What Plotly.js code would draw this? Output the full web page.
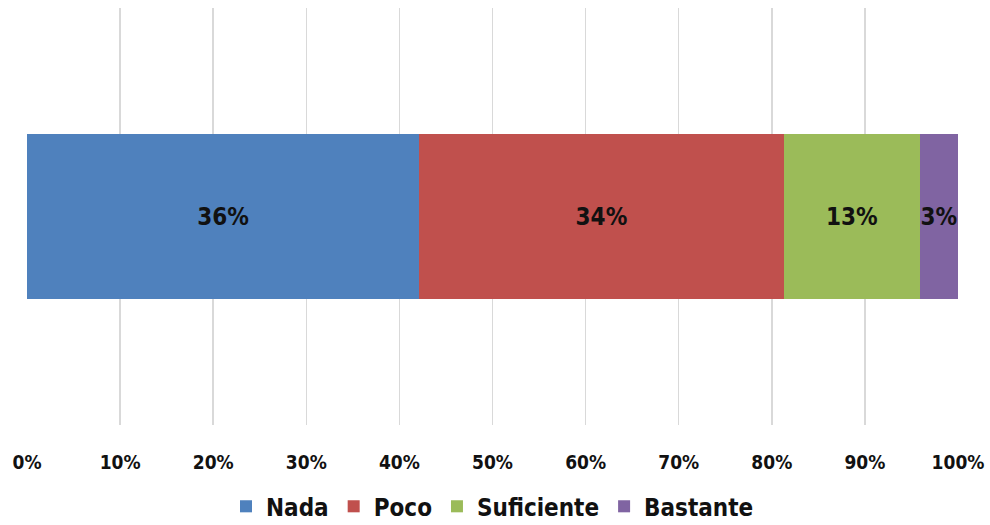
<!DOCTYPE html>
<html>
<head>
<meta charset="utf-8">
<script src="https://cdn.plot.ly/plotly-3.0.1.min.js"></script>
<style>html,body{margin:0;padding:0;background:#fff;}#chart{width:990px;height:525px;}</style>
</head>
<body>
<div id="chart"></div>
<script>
const seriesNames = ["Nada", "Poco", "Suficiente", "Bastante"];
// segment widths (share of the bar, %)
const barShares = [42.1, 39.2, 14.6, 4.1];
// values printed on the segments
const labelValues = [36, 34, 13, 3];
const seriesColors = ["#4F81BD", "#C0504D", "#9BBB59", "#8064A2"];
const category = [""];
const xTickVals = [0, 10, 20, 30, 40, 50, 60, 70, 80, 90, 100];
const xTickText = ["0%", "10%", "20%", "30%", "40%", "50%", "60%", "70%", "80%", "90%", "100%"];

const FONT = "'DejaVu Sans Condensed', 'Liberation Sans Narrow', 'Liberation Sans', Arial, sans-serif";

const traces = seriesNames.map((name, i) => ({
  type: "bar",
  orientation: "h",
  name: name,
  y: category,
  x: [barShares[i]],
  text: [labelValues[i] + "%"],
  textposition: "inside",
  insidetextanchor: "middle",
  textangle: 0,
  constraintext: "none",
  textfont: {family: FONT, size: 24, color: "#111", weight: "bold"},
  marker: {color: seriesColors[i], line: {width: 0}},
  width: 0.395,
  hoverinfo: "skip"
}));

const layout = {
  width: 990, height: 525,
  margin: {l: 27, r: 32, t: 8, b: 100, autoexpand: false},
  paper_bgcolor: "#fff", plot_bgcolor: "#fff",
  barmode: "stack",
  barnorm: "percent",
  showlegend: true,
  xaxis: {
    range: [0, 100],
    tickvals: xTickVals,
    ticktext: xTickText,
    showgrid: true, gridcolor: "#d9d9d9", gridwidth: 1.5,
    zeroline: false, showline: false, ticks: "",
    ticklabelstandoff: 24,
    tickfont: {family: FONT, size: 19, color: "#111", weight: "bold"},
    fixedrange: true
  },
  yaxis: {
    range: [-0.5, 0.5],
    showticklabels: false, showgrid: false, zeroline: false, showline: false, ticks: "",
    fixedrange: true
  },
  legend: {
    orientation: "h",
    x: 0.5, xanchor: "center",
    y: -0.142, yanchor: "top",
    font: {family: FONT, size: 24, color: "#111", weight: "bold"},
    itemwidth: 30,
    traceorder: "normal"
  },
  font: {family: FONT}
};

Plotly.newPlot("chart", traces, layout, {displayModeBar: false, staticPlot: true});
</script>
</body>
</html>
